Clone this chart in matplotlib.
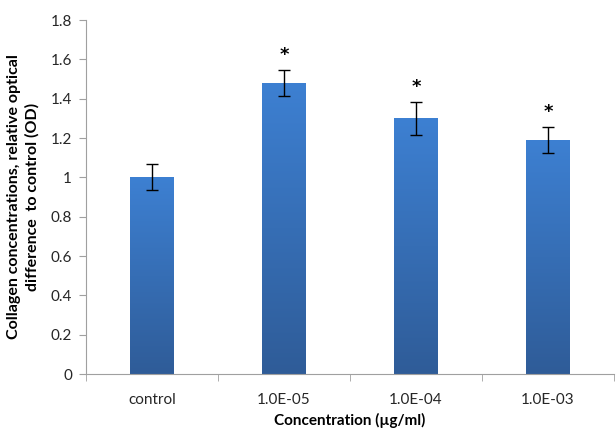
import matplotlib
matplotlib.use("Agg")
import matplotlib.pyplot as plt
import numpy as np
from matplotlib.colors import LinearSegmentedColormap

plt.rcParams["font.family"] = ["Lato", "DejaVu Sans"]

categories = ["control", "1.0E-05", "1.0E-04", "1.0E-03"]
values = [1.0, 1.48, 1.30, 1.19]
errors = [0.066, 0.067, 0.083, 0.066]
marks = ["", "*", "*", "*"]

fig = plt.figure(figsize=(6.16, 4.37), dpi=100)
ax = fig.add_axes([86 / 616, 1 - 374 / 437, 528 / 616, 354 / 437])

x = np.arange(len(categories))
width = 0.33
bars = ax.bar(x, values, width=width, color="#3a77c4", edgecolor="none", zorder=2)

# vertical gradient inside each bar, light on top, darker at the bottom
grad = LinearSegmentedColormap.from_list("g", ["#2f5c98", "#3d80d2"])
for b in bars:
	x0, y0 = b.get_x(), b.get_y()
	w, h = b.get_width(), b.get_height()
	img = ax.imshow(np.linspace(0, 1, 256).reshape(-1, 1), cmap=grad, origin="lower",
		extent=[x0, x0 + w, y0, y0 + h], aspect="auto", zorder=2.5)
	img.set_clip_path(b)

ax.errorbar(x, values, yerr=errors, fmt="none", ecolor="black", elinewidth=1,
	capsize=4, capthick=1, zorder=3)

for xi, v, e, m in zip(x, values, errors, marks):
	if m:
		ax.text(xi, v + e + 0.03, m, ha="center", va="bottom", fontsize=13,
			fontweight="bold", family="DejaVu Sans")

ax.set_xlim(-0.5, len(categories) - 0.5)
ax.set_ylim(0, 1.8)
ax.set_yticks(np.arange(0, 1.81, 0.2))
ax.set_yticklabels(["0", "0.2", "0.4", "0.6", "0.8", "1", "1.2", "1.4", "1.6", "1.8"])
ax.set_xticks(x)
ax.set_xticklabels(categories)
ax.set_xticks(np.arange(-0.5, len(categories), 1), minor=True)
ax.tick_params(axis="x", which="major", length=0, pad=14, labelsize=11, colors="#262626")
ax.tick_params(axis="x", which="minor", length=5, color="#a0a0a0")
ax.tick_params(axis="y", length=5, color="#a0a0a0", labelsize=11, labelcolor="#262626", pad=5)

for s in ["top", "right"]:
	ax.spines[s].set_visible(False)
for s in ["left", "bottom"]:
	ax.spines[s].set_color("#a0a0a0")

ax.set_xlabel("Concentration (\u00b5g/ml)", fontsize=11, fontweight="bold", labelpad=4)
ax.set_ylabel("Collagen concentrations, relative optical\ndifference  to control (OD)",
	fontsize=11.5, fontweight="bold", labelpad=8, linespacing=1.35)

fig.savefig("out.png", dpi=100)
